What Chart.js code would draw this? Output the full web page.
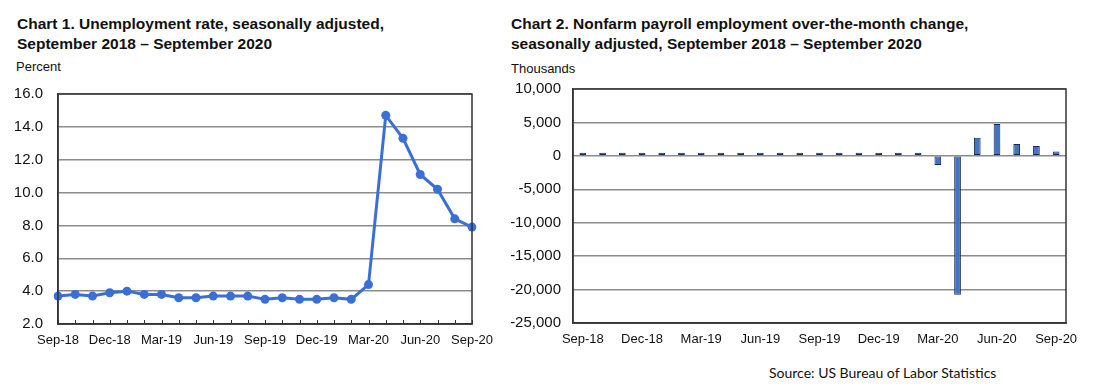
<!DOCTYPE html>
<html>
<head>
<meta charset="utf-8">
<script src="https://cdn.jsdelivr.net/npm/chart.js@4.4.0/dist/chart.umd.min.js"></script>
<style>
  body { margin: 0; background: #fff; width: 1101px; height: 392px; position: relative; overflow: hidden; font-family: "Liberation Sans", Arial, sans-serif; }
  .title { position: absolute; font-weight: bold; font-size: 15.5px; line-height: 20px; color: #111; }
  .unit { position: absolute; font-size: 13px; color: #111; }
  .box { position: absolute; }
  .source { position: absolute; left: 769px; top: 364px; font-family: Lato, "Open Sans", sans-serif; font-size: 14px; color: #111; }
</style>
</head>
<body>
<div class="title" style="left:17px; top:14px;">Chart 1. Unemployment rate, seasonally adjusted,<br>September 2018 &ndash; September 2020</div>
<div class="title" style="left:511px; top:14px;">Chart 2. Nonfarm payroll employment over-the-month change,<br>seasonally adjusted, September 2018 &ndash; September 2020</div>
<div class="unit" style="left:16px; top:59px;">Percent</div>
<div class="unit" style="left:511px; top:61px;">Thousands</div>
<div class="box" style="left:0px; top:70px;"><canvas id="rateChart" width="500" height="294"></canvas></div>
<div class="box" style="left:500px; top:68px;"><canvas id="payrollChart" width="590" height="295"></canvas></div>
<div class="source">Source: US Bureau of Labor Statistics</div>

<script>
// Monthly data, Sep 2018 - Sep 2020
const months = [
    'Sep-18', 'Oct-18', 'Nov-18', 'Dec-18', 'Jan-19', 'Feb-19', 'Mar-19', 'Apr-19', 'May-19',
    'Jun-19', 'Jul-19', 'Aug-19', 'Sep-19', 'Oct-19', 'Nov-19', 'Dec-19', 'Jan-20', 'Feb-20',
    'Mar-20', 'Apr-20', 'May-20', 'Jun-20', 'Jul-20', 'Aug-20', 'Sep-20'
];

const unemploymentRate = [
    3.7, 3.8, 3.7, 3.9, 4.0, 3.8, 3.8, 3.6, 3.6, 3.7, 3.7, 3.7, 3.5,
    3.6, 3.5, 3.5, 3.6, 3.5, 4.4, 14.7, 13.3, 11.1, 10.2, 8.4, 7.9
];

const payrollChange = [
    118, 277, 196, 227, 312, 56, 147, 210, 85, 182, 194, 207, 208,
    185, 261, 184, 214, 251, -1373, -20787, 2725, 4781, 1761, 1489, 661
];

const fontFamily = '"Liberation Sans", Arial, sans-serif';
const textColor = '#111';
const gridColor = '#8c8c8c';
const frameColor = '#333';

// draws the box round the plot area, and small inward tick marks when asked
const framePlugin = {
    id: 'frame',
    afterDraw(chart, args, opts) {
        const { ctx, chartArea } = chart;
        ctx.save();
        if (opts.monthTicks) {
            const x = chart.scales.x;
            ctx.strokeStyle = frameColor;
            ctx.lineWidth = 1;
            ctx.beginPath();
            x.ticks.forEach((t, i) => {
                const px = Math.round(x.getPixelForTick(i)) + 0.5;
                ctx.moveTo(px, chartArea.bottom);
                ctx.lineTo(px, chartArea.bottom - 4);
            });
            ctx.stroke();
        }
        ctx.strokeStyle = frameColor;
        ctx.lineWidth = 1.5;
        ctx.strokeRect(chartArea.left, chartArea.top, chartArea.right - chartArea.left, chartArea.bottom - chartArea.top);
        ctx.restore();
    }
};

Chart.defaults.font.family = fontFamily;
Chart.defaults.color = textColor;

new Chart(document.getElementById('rateChart'), {
    type: 'line',
    data: {
        labels: months,
        datasets: [{
            data: unemploymentRate,
            borderColor: '#3a6fd8',
            backgroundColor: '#3a6fd8',
            borderWidth: 3,
            pointRadius: 4.5,
            pointBackgroundColor: '#3a6fd8',
            pointBorderWidth: 0,
            tension: 0
        }]
    },
    options: {
        responsive: false,
        animation: false,
        devicePixelRatio: 1,
        layout: { padding: { top: 12, right: 28, left: 0, bottom: 0 } },
        plugins: {
            legend: { display: false },
            tooltip: { enabled: false },
            frame: { monthTicks: true }
        },
        scales: {
            x: {
                offset: false,
                grid: { display: false },
                border: { color: frameColor, width: 1.5 },
                ticks: {
                    autoSkip: false,
                    maxRotation: 0,
                    padding: 1,
                    font: { size: 13 },
                    callback: function (v, i) { return i % 3 === 0 ? months[i] : ''; }
                },
                afterFit: s => { s.height = 40; }
            },
            y: {
                min: 2,
                max: 16,
                ticks: {
                    stepSize: 2,
                    padding: 15,
                    font: { size: 15 },
                    callback: v => v.toFixed(1)
                },
                grid: { color: gridColor, lineWidth: 1.5, drawTicks: false },
                border: { color: frameColor, width: 1.5 },
                afterFit: s => { s.width = 58; }
            }
        }
    },
    plugins: [framePlugin]
});

new Chart(document.getElementById('payrollChart'), {
    type: 'bar',
    data: {
        labels: months,
        datasets: [{
            data: payrollChange,
            backgroundColor: '#4472c4',
            borderColor: '#17284d',
            borderWidth: 1,
            borderSkipped: false,
            minBarLength: 3,
            categoryPercentage: 1,
            barPercentage: 0.34
        }]
    },
    options: {
        responsive: false,
        animation: false,
        devicePixelRatio: 1,
        layout: { padding: { top: 9, right: 24, left: 0, bottom: 0 } },
        plugins: {
            legend: { display: false },
            tooltip: { enabled: false },
            frame: { monthTicks: false }
        },
        scales: {
            x: {
                grid: { display: false },
                border: { color: frameColor, width: 1.5 },
                ticks: {
                    autoSkip: false,
                    maxRotation: 0,
                    padding: 1,
                    font: { size: 13 },
                    callback: function (v, i) { return i % 3 === 0 ? months[i] : ''; }
                },
                afterFit: s => { s.height = 40; }
            },
            y: {
                min: -25000,
                max: 10000,
                ticks: {
                    stepSize: 5000,
                    padding: 12,
                    font: { size: 15 },
                    callback: v => v.toLocaleString('en-US')
                },
                grid: { color: gridColor, lineWidth: 1.5, drawTicks: false },
                border: { color: frameColor, width: 1.5 },
                afterFit: s => { s.width = 73; }
            }
        }
    },
    plugins: [framePlugin]
});
</script>
</body>
</html>
